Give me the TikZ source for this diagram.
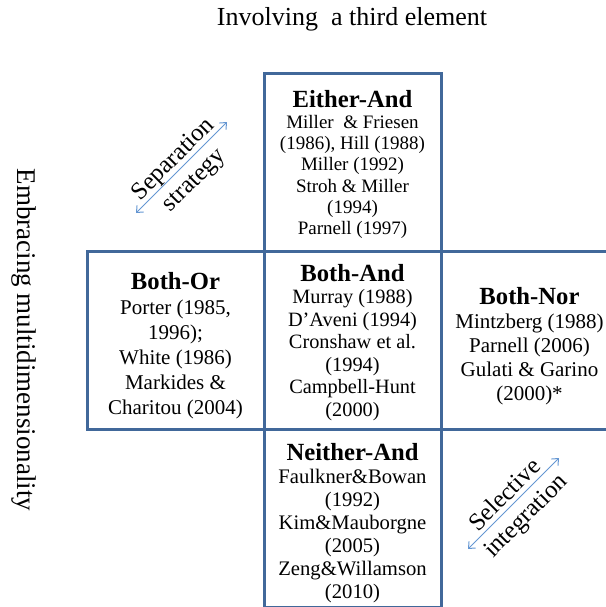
\documentclass[tikz,border=0pt]{standalone}
\usepackage{fontspec}
\setmainfont{Liberation Serif}
\usetikzlibrary{positioning, arrows.meta}

\definecolor{cellblue}{RGB}{65,104,154}
\definecolor{arrowblue}{RGB}{100,150,210}

% title line of a cell; the optional strut pushes the text block down
\newcommand{\celltitle}[2][0pt]{{\fontsize{18.5pt}{22pt}\selectfont\bfseries\rule{0pt}{#1}#2}}

\begin{document}
\begin{tikzpicture}[x = 0.75pt, y = -0.75pt, > = {Straight Barb[length = 4pt, width = 7pt]},
	cell/.style = {draw = cellblue, line width = 2.25pt, inner sep = 0pt, outer sep = 0pt,
		minimum width = 132.75pt, minimum height = 133.5pt, align = center},
	axislabel/.style = {font = \fontsize{19.5pt}{23pt}\selectfont},
	wayarrow/.style = {<->, draw = arrowblue, line width = 0.75pt},
	waylabel/.style = {sloped, align = center, yshift = -3pt, font = \fontsize{18.5pt}{22pt}\selectfont}]
	
	% Page frame
	
	\useasboundingbox (0, 0) rectangle (606, 607);
	\clip (0, 0) rectangle (606, 607);
	
	% Axis labels
	
	\node [axislabel] (third) at (352, 19) {Involving\ \ a third element};
	\node [axislabel, font = \fontsize{20.25pt}{23pt}\selectfont, rotate = -90] (multi) at (24, 340)
		{Embracing multidimensionality};
	
	% The five cells
	
	\node [cell, font = \fontsize{15.25pt}{16.9pt}\selectfont] (bothand) at (352.5, 340.5)
		{\celltitle[15.7pt]{Both-And}\\Murray (1988)\\D'Aveni (1994)\\Cronshaw et al.\\(1994)\\Campbell-Hunt\\(2000)};
	\node [cell, above = 0pt of bothand, font = \fontsize{14.25pt}{15.9pt}\selectfont] (eitherand)
		{\celltitle[15.7pt]{Either-And}\\Miller\ \ \& Friesen\\(1986),\ Hill (1988)\\Miller\ (1992)\\Stroh \& Miller\\(1994)\\Parnell (1997)};
	\node [cell, left = 0pt of bothand, font = \fontsize{15.75pt}{18.75pt}\selectfont] (bothor)
		{\celltitle[20.2pt]{Both-Or}\\Porter (1985,\\1996);\\White (1986)\\Markides \&\\Charitou (2004)};
	\node [cell, right = 0pt of bothand, font = \fontsize{15.75pt}{18pt}\selectfont] (bothnor)
		{\celltitle[21.7pt]{Both-Nor}\\Mintzberg (1988)\\Parnell (2006)\\Gulati \& Garino\\(2000)*};
	\node [cell, below = 0pt of bothand, font = \fontsize{15.5pt}{17.2pt}\selectfont] (neitherand)
		{\celltitle[20.2pt]{Neither-And}\\Faulkner\&Bowan\\(1992)\\Kim\&Mauborgne\\(2005)\\Zeng\&Willamson\\(2010)};
	
	% Two-way arrows
	
	\coordinate (sep-lo) at (136, 213);
	\coordinate (sep-hi) at (227, 122);
	\coordinate (sel-lo) at (468, 549);
	\coordinate (sel-hi) at (559, 458);
	
	\draw [wayarrow] (sep-lo) -- node [waylabel] {Separation\\strategy} (sep-hi);
	\draw [wayarrow] (sel-lo) -- node [waylabel] {Selective\\integration} (sel-hi);

\end{tikzpicture}
\end{document}
